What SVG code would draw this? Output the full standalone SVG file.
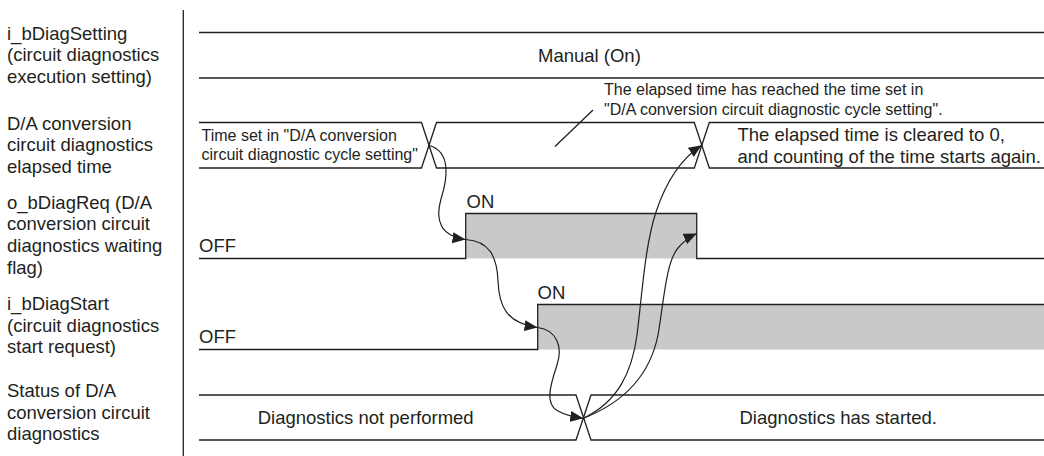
<svg xmlns="http://www.w3.org/2000/svg" width="1044" height="456" viewBox="0 0 1044 456">
<defs>
<style>
.t{font-family:"Liberation Sans",Arial,sans-serif;font-size:18.5px;fill:#231f20}
.s{font-family:"Liberation Sans",Arial,sans-serif;font-size:16px;fill:#231f20}
.w{fill:none;stroke:#231f20;stroke-width:1.3}
.hi{fill:#c8c9ca;stroke:none}
.c{fill:none;stroke:#231f20;stroke-width:1.2;marker-end:url(#ah)}
</style>
<marker id="ah" markerUnits="userSpaceOnUse" markerWidth="14" markerHeight="12" refX="13" refY="5.5" orient="auto" viewBox="0 0 14 12"><path d="M0,0 L13,5.5 L0,11 z" fill="#231f20"/></marker>
</defs>
<rect width="1044" height="456" fill="#fff"/>
<line x1="183.3" y1="10" x2="183.3" y2="456" class="w"/>

<g id="sig-diagsetting">
<text class="t" x="7" y="39.5">i_bDiagSetting</text>
<text class="t" x="7" y="61.2">(circuit diagnostics</text>
<text class="t" x="7" y="82.9">execution setting)</text>
<path class="w" d="M199,32.5 H1044 M199,78 H1044"/>
<text class="t" x="538" y="61.5">Manual (On)</text>
</g>

<g id="sig-elapsed">
<text class="t" x="7" y="129.5">D/A conversion</text>
<text class="t" x="7" y="151.2">circuit diagnostics</text>
<text class="t" x="7" y="172.9">elapsed time</text>
<path class="w" d="M199,122.5 H421.5 L436.5,168 H694.3 L709.3,122.5 H1044"/>
<path class="w" d="M199,168 H421.5 L436.5,122.5 H694.3 L709.3,168 H1044"/>
<text class="s" x="201.5" y="141">Time set in "D/A conversion</text>
<text class="s" x="201.5" y="159.5">circuit diagnostic cycle setting"</text>
<text class="t" x="737.5" y="141">The elapsed time is cleared to 0,</text>
<text class="t" x="737.5" y="162.5">and counting of the time starts again.</text>
</g>

<g id="note-reached">
<text class="s" x="604" y="95">The elapsed time has reached the time set in</text>
<text class="s" x="604" y="114.5">"D/A conversion circuit diagnostic cycle setting".</text>
<line class="w" x1="593" y1="110" x2="555" y2="146.5" stroke-width="1.1"/>
</g>

<g id="sig-diagreq">
<text class="t" x="7" y="208.5">o_bDiagReq (D/A</text>
<text class="t" x="7" y="230.2">conversion circuit</text>
<text class="t" x="7" y="251.9">diagnostics waiting</text>
<text class="t" x="7" y="273.6">flag)</text>
<rect class="hi" x="465.7" y="213.5" width="231" height="45"/>
<path class="w" d="M199,258.5 H465.7 V213.5 H696.7 V258.5 H1044"/>
<text class="t" x="466.5" y="208">ON</text>
<text class="t" x="199" y="252">OFF</text>
</g>

<g id="sig-diagstart">
<text class="t" x="7" y="310">i_bDiagStart</text>
<text class="t" x="7" y="331.7">(circuit diagnostics</text>
<text class="t" x="7" y="353.4">start request)</text>
<rect class="hi" x="537.7" y="304.5" width="506.3" height="45"/>
<path class="w" d="M199,349.5 H537.7 V304.5 H1044"/>
<text class="t" x="537.5" y="299">ON</text>
<text class="t" x="199" y="343">OFF</text>
</g>

<g id="sig-status">
<text class="t" x="7" y="397">Status of D/A</text>
<text class="t" x="7" y="418.7">conversion circuit</text>
<text class="t" x="7" y="440.4">diagnostics</text>
<path class="w" d="M199,395 H576 L591,440 H1044"/>
<path class="w" d="M199,440 H576 L591,395 H1044"/>
<text class="t" x="257.7" y="424">Diagnostics not performed</text>
<text class="t" x="739.5" y="424">Diagnostics has started.</text>
</g>

<g id="connectors">
<path class="c" d="M429.3,145.5 C452,152 447,180 441,199 C435,220 440,236 465.5,239.5"/>
<path class="c" d="M465.7,239.5 C489,241 497,256 498,281 C499,306 506,323 537.5,327.5"/>
<path class="c" d="M537.7,327.5 C557,330 563,347 557,365 C551,383 544,404 558,411 C565,415 574,417 583.3,418.3"/>
<path class="c" d="M583.3,418.3 C618,402 632,372 637,335 C642,295 645,245 656,212 C666,182 682,158 701.7,145.3"/>
<path class="c" d="M583.3,418.3 C625,402 650,375 658,335 C664,300 666,262 678,248 C684,241 689,237 696.7,233.5"/>
</g>
</svg>
